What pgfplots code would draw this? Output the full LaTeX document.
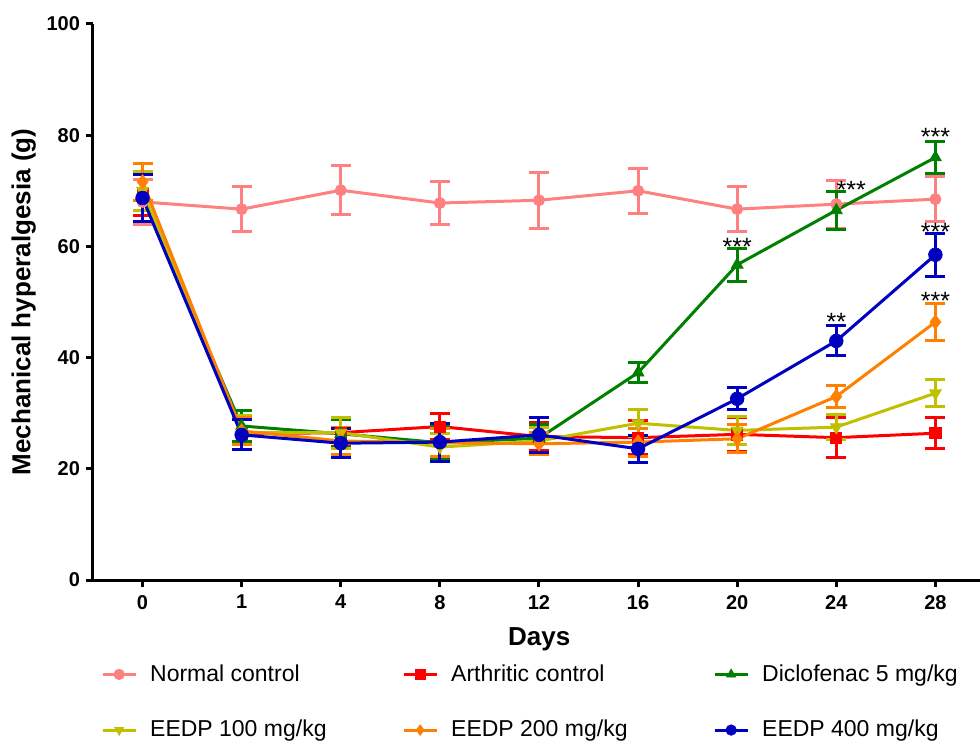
\documentclass[border=0pt]{standalone}
\usepackage{pgfplots}
\pgfplotsset{compat=1.18}
\usepackage{pgfplotstable}
\usepackage{fontspec}
\setmainfont{Liberation Sans}
\usetikzlibrary{calc}
\definecolor{cnorm}{RGB}{255,128,128}
\definecolor{carth}{RGB}{255,0,0}
\definecolor{cdic}{RGB}{0,128,0}
\definecolor{c100}{RGB}{192,192,0}
\definecolor{c200}{RGB}{255,128,0}
\definecolor{c400}{RGB}{0,0,192}

\pgfplotstableread{
x y e
0 68.0 4.0
1 66.7 4.1
2 70.1 4.4
3 67.8 3.9
4 68.3 5.0
5 70.0 4.0
6 66.7 4.0
7 67.6 4.3
8 68.5 4.0
}\tnorm
\pgfplotstableread{
x y e
0 69.5 4.0
1 26.3 2.8
2 26.5 2.5
3 27.6 2.4
4 25.8 2.5
5 25.6 3.0
6 26.2 3.0
7 25.6 3.6
8 26.4 2.8
}\tarth
\pgfplotstableread{
x y e
0 69.0 4.5
1 27.7 2.7
2 26.3 2.5
3 24.7 3.0
4 25.5 2.5
5 37.3 1.8
6 56.7 3.0
7 66.5 3.4
8 76.0 2.9
}\tdic
\pgfplotstableread{
x y e
0 70.0 3.5
1 26.5 3.0
2 26.5 2.8
3 23.9 2.5
4 25.0 2.5
5 28.2 2.4
6 26.9 2.5
7 27.5 2.3
8 33.6 2.4
}\tcent
\pgfplotstableread{
x y e
0 71.6 3.4
1 26.8 2.5
2 25.0 2.5
3 24.7 2.5
4 24.5 2.0
5 24.8 2.5
6 25.4 2.5
7 33.0 2.0
8 46.4 3.4
}\tduo
\pgfplotstableread{
x y e
0 68.7 4.3
1 26.1 2.7
2 24.6 2.6
3 24.8 3.4
4 26.1 3.2
5 23.6 2.4
6 32.6 2.0
7 43.0 2.7
8 58.5 3.9
}\tqua

\begin{document}
\begin{tikzpicture}
\begin{axis}[
  name=ax,
  scale only axis,
  width=443.5pt, height=278pt,
  axis lines=left,
  axis line style={-, line width=1.5pt},
  xmin=-0.5, xmax=8.45,
  ymin=0, ymax=100,
  ytick={0,20,40,60,80,100},
  xtick={0,1,2,3,4,5,6,7,8},
  xticklabels={0,1,4,8,12,16,20,24,28},
  tick align=outside,
  major tick length=3.5pt,
  tick style={line width=1.5pt, black},
  /pgf/number format/assume math mode=true,
  ticklabel style={font=\bfseries\fontsize{10}{12}\selectfont},
  yticklabel style={xshift=0.5pt},
  xticklabel style={yshift=-0.5pt},
  xlabel={Days},
  ylabel={Mechanical hyperalgesia (g)},
  label style={font=\bfseries\fontsize{13}{15}\selectfont},
  xlabel style={at={(axis description cs:0.503,-0.107)}, anchor=center},
  ylabel style={at={(axis description cs:-0.078,0.5)}, anchor=center},
  legend columns=3,
  legend style={draw=none, fill=none, at={(axis description cs:0.002,-0.137)}, anchor=north west,
    font=\fontsize{11.5}{13}\selectfont, row sep=14pt,
    /tikz/every even column/.append style={column sep=8pt},
    /tikz/every odd column/.append style={column sep=4.5pt}},
  legend cell align=left,
  legend image code/.code={\draw[mark repeat=2,mark phase=2] plot coordinates {(0pt,0pt) (8.25pt,0pt) (16.5pt,0pt)};},
  legend image post style={mark size=2.6pt},
  every axis plot/.append style={line width=1.5pt},
  error bars/error bar style={line width=1.5pt},
  error bars/error mark options={rotate=90, mark size=5pt, line width=1.5pt},
  clip=false,
]
\addplot[color=cnorm, mark=*, mark size=2.8pt, mark options={line width=0.4pt},
  error bars/.cd, y dir=both, y explicit] table[x=x, y=y, y error=e] {\tnorm};
\addlegendentry{\makebox[116pt][l]{Normal control}}
\addplot[color=carth, mark=square*, mark size=2.8pt, mark options={line width=0.4pt},
  error bars/.cd, y dir=both, y explicit] table[x=x, y=y, y error=e] {\tarth};
\addlegendentry{\makebox[121pt][l]{Arthritic control}}
\addplot[color=cdic, mark=triangle*, mark size=3.4pt, mark options={line width=0.4pt},
  error bars/.cd, y dir=both, y explicit] table[x=x, y=y, y error=e] {\tdic};
\addlegendentry{Diclofenac 5 mg/kg}
\addplot[color=c100, mark=triangle*, mark size=3.4pt, mark options={rotate=180, line width=0.4pt},
  error bars/.cd, y dir=both, y explicit] table[x=x, y=y, y error=e] {\tcent};
\addlegendentry{\makebox[116pt][l]{EEDP 100 mg/kg}}
\addplot[color=c200, mark=diamond*, mark size=3.6pt, mark options={line width=0.4pt},
  error bars/.cd, y dir=both, y explicit] table[x=x, y=y, y error=e] {\tduo};
\addlegendentry{\makebox[121pt][l]{EEDP 200 mg/kg}}
\addplot[color=c400, mark=*, mark size=3.4pt, mark options={line width=0.4pt},
  error bars/.cd, y dir=both, y explicit] table[x=x, y=y, y error=e] {\tqua};
\addlegendentry{EEDP 400 mg/kg}

\tikzset{star/.style={font=\fontsize{12.5}{14}\selectfont, anchor=base, inner sep=0pt}}
\node[star] at (axis cs:6,58.4) {***};
\node[star] at (axis cs:7.15,68.7) {***};
\node[star] at (axis cs:8,78.1) {***};
\node[star] at (axis cs:8,61.0) {***};
\node[star] at (axis cs:7,44.8) {**};
\node[star] at (axis cs:8,48.6) {***};
\end{axis}
\pgfresetboundingbox
\path ($(ax.south west)+(-46.5pt,290pt)$) rectangle ($(ax.south west)+(443.5pt,-80pt)$);
\end{tikzpicture}
\end{document}
